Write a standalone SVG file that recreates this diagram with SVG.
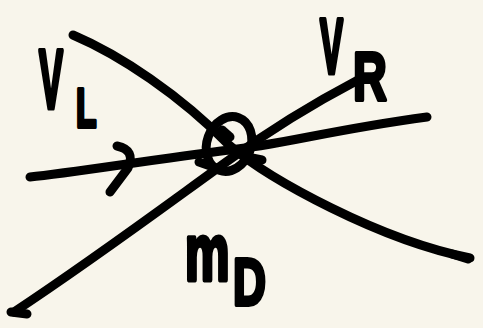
<svg xmlns="http://www.w3.org/2000/svg" width="483" height="328" viewBox="0 0 483 328">
<style>
.ink{fill:none;stroke:#000;stroke-width:9;stroke-linecap:round;stroke-linejoin:round}
.lbl{font-family:"Liberation Sans","DejaVu Sans",sans-serif;font-weight:bold;fill:#000;stroke:#000;stroke-width:3;stroke-linejoin:round}
</style>
<rect width="483" height="328" fill="#f8f5eb"/>
<g id="connectors">
<path class="ink" d="M73,35 C120,55 180,95 229,145 C270,180 380,240 470,258"/>
<path class="ink" d="M452,254 L468,259" stroke-width="12"/>
<path class="ink" d="M30,177 C70,173 150,160 229,150"/>
<path class="ink" d="M229,150 C280,145 330,130 427,117"/>
<path class="ink" d="M14,312 C100,255 180,195 229,160 C270,130 320,100 358,80"/>
<path class="ink" d="M11,312 L27,314"/>
<path class="ink" d="M117,146 Q136,150 128,168 L110,192"/>
</g>
<g id="vertex">
<ellipse class="ink" cx="229" cy="144" rx="22" ry="28" transform="rotate(20 229 144)"/>
<path class="ink" d="M222,130 L230,137"/>
<path class="ink" d="M199,162 L216,168"/>
<path class="ink" d="M252,158 L262,160"/>
</g>
<g id="label-nuL">
<text class="lbl" font-size="48" transform="translate(39,108) scale(0.75,1.75)">V</text>
<text class="lbl" font-size="42" transform="translate(76,127) scale(0.8,1.3)">L</text>
</g>
<g id="label-nuR">
<text class="lbl" font-size="46" transform="translate(320,73) scale(0.75,1.7)">V</text>
<text class="lbl" font-size="52" transform="translate(353,100) scale(0.9,1.3)">R</text>
</g>
<g id="label-mD">
<text class="lbl" font-size="50" transform="translate(185,280) scale(1,1.6)">m</text>
<text class="lbl" font-size="48" transform="translate(233,305) scale(0.95,1.4)">D</text>
</g>
</svg>
